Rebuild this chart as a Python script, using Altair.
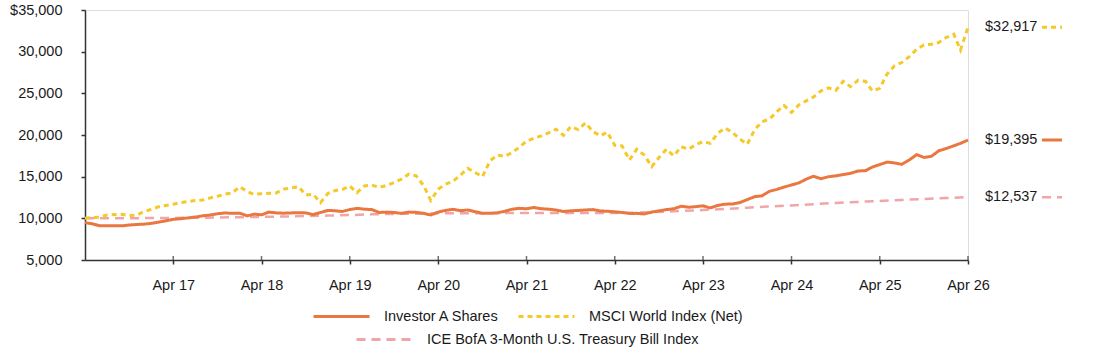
import altair as alt
import pandas as pd

# ---------------- data ----------------
months = pd.date_range("2016-04-01", "2026-04-01", freq="MS").strftime("%Y-%m-%d").tolist()
quarters = pd.date_range("2016-04-01", "2026-04-01", freq="3MS").strftime("%Y-%m-%d").tolist()

fund = [9475, 9350, 9100, 9100, 9120, 9100, 9200, 9260, 9300, 9400, 9550, 9700,
        9880, 9950, 10050, 10150, 10300, 10400, 10550, 10650, 10600, 10620, 10300, 10500,
        10420, 10750, 10650, 10620, 10650, 10680, 10650, 10450, 10700, 10950, 10900, 10820,
        11050, 11200, 11100, 11050, 10700, 10750, 10700, 10600, 10750, 10720, 10600, 10400,
        10750, 10950, 11080, 10920, 11000, 10800, 10600, 10600, 10650, 10850, 11100, 11200,
        11150, 11300, 11150, 11100, 11000, 10820, 10900, 10950, 11000, 11050, 10880, 10850,
        10780, 10700, 10580, 10600, 10520, 10750, 10900, 11050, 11150, 11450, 11330, 11400,
        11500, 11250, 11550, 11700, 11720, 11900, 12250, 12600, 12700, 13250, 13480, 13750,
        14000, 14250, 14700, 15050, 14750, 15000, 15100, 15250, 15400, 15680, 15720, 16150,
        16450, 16750, 16650, 16480, 17000, 17650, 17300, 17450, 18100, 18380, 18700, 19000,
        19395]

msci = [10000, 10100, 10150, 10400, 10450, 10480, 10300, 10400, 10800, 11100, 11400, 11550,
        11700, 11900, 12000, 12150, 12200, 12450, 12650, 12900, 13050, 13800, 13200, 12880,
        12950, 13000, 13050, 13500, 13650, 13800, 12800, 12900, 11880, 13000, 13350, 13450,
        13880, 13080, 13900, 14000, 13700, 13950, 14300, 14700, 15300, 15100, 13900, 12150,
        13500, 14100, 14450, 15150, 16000, 15500, 15000, 16900, 17600, 17450, 17900, 18500,
        19250, 19600, 19900, 20250, 20700, 19950, 21000, 20650, 21450, 20400, 19900, 20350,
        18750, 18700, 17000, 18300, 17600, 16200, 17300, 18300, 17500, 18600, 18300, 18850,
        19200, 19000, 20200, 20850, 20300, 19500, 18900, 20650, 21600, 21900, 22800, 23550,
        22700, 23600, 24100, 24550, 25300, 25650, 25350, 26450, 25800, 26550, 26450, 25300,
        25600, 27300, 28300, 28700, 29400, 30300, 30800, 30900, 31100, 31700, 32100, 30200,
        32917]

tbill = [10000, 10005, 10015, 10030, 10050, 10070, 10100, 10130, 10170, 10220, 10270, 10330,
         10390, 10480, 10530, 10560, 10610, 10620, 10625, 10630, 10633, 10635, 10637, 10640,
         10650, 10680, 10760, 10880, 11000, 11130, 11280, 11430, 11550, 11700, 11840, 11970,
         12090, 12210, 12330, 12440, 12537]

names = ["Investor A Shares", "MSCI World Index (Net)",
         "ICE BofA 3-Month U.S. Treasury Bill Index"]
end_labels = ["$19,395", "$32,917", "$12,537"]
tick_years = [2017, 2018, 2019, 2020, 2021, 2022, 2023, 2024, 2025, 2026]
tick_dates = [f"{y}-04-01" for y in tick_years]

# ---------------- styles ----------------
colors = ["#E9773F", "#F4C928", "#F0A6A8"]
dashes = [[1, 0], [5, 4], [9, 6]]
widths = [3, 3, 2.5]
legend_pos = [(227, 277), (432, 277), (270, 300)]   # legend placement (px from plot origin)
FONT = "Liberation Sans"
FS = 14.5
TXT = "#1a1a1a"
AXC = "#333333"

series_frames = [
    pd.DataFrame({"date": months, "value": fund, "series": names[0]}),
    pd.DataFrame({"date": months, "value": msci, "series": names[1]}),
    pd.DataFrame({"date": quarters, "value": tbill, "series": names[2]}),
]
df_end = pd.DataFrame({"series": names, "value": [fund[-1], msci[-1], tbill[-1]],
                       "label": end_labels})
df_ticks = pd.DataFrame({"date": tick_dates})

xscale = alt.Scale(type="utc", domain=[alt.DateTime(year=2016, month=4, date=1, utc=True),
                                        alt.DateTime(year=2026, month=4, date=1, utc=True)])
xaxis = alt.Axis(values=[alt.DateTime(year=y, month=4, date=1, utc=True) for y in tick_years],
                 format="%b %y", grid=False, domainColor=AXC, domainWidth=1.5,
                 tickColor=AXC, tickWidth=1.5, tickSize=4, labelPadding=14,
                 labelFlush=False, labelOverlap=False,
                 labelFont=FONT, labelFontSize=FS, labelColor=TXT, title=None)
yaxis = alt.Axis(values=[5000, 10000, 15000, 20000, 25000, 30000, 35000],
                 labelExpr="datum.value == 35000 ? '$35,000' : format(datum.value, ',')",
                 grid=False, domainColor=AXC, domainWidth=1.5, tickColor=AXC, tickWidth=1.5,
                 tickSize=4, labelPadding=19, labelFont=FONT, labelFontSize=FS,
                 labelFlush=False, labelColor=TXT, title=None)

x_enc = alt.X("date:T", scale=xscale, axis=xaxis, title=None)
y_enc = alt.Y("value:Q", scale=alt.Scale(domain=[5000, 35000], nice=False), axis=yaxis, title=None)


def legend(lx, ly):
    return alt.Legend(orient="none", legendX=lx, legendY=ly, direction="horizontal",
                      title=None, symbolType="stroke", symbolSize=3136,
                      symbolStrokeWidth=3, labelFont=FONT, labelFontSize=FS,
                      labelColor=TXT, labelOffset=13, labelLimit=0, padding=0)


line_layers = []
for i in [2, 0, 1]:
    leg = legend(*legend_pos[i])
    line_layers.append(
        alt.Chart(series_frames[i]).mark_line(strokeWidth=widths[i]).encode(
            x=x_enc, y=y_enc,
            color=alt.Color("series:N", scale=alt.Scale(domain=[names[i]], range=[colors[i]]),
                            legend=leg),
            strokeDash=alt.StrokeDash("series:N",
                                      scale=alt.Scale(domain=[names[i]], range=[dashes[i]]),
                                      legend=leg),
        )
    )

ticks_up = alt.Chart(df_ticks).mark_tick(color=AXC, thickness=1.5, size=4).encode(
    x=x_enc, y=alt.value(248))

end_text = alt.Chart(df_end).mark_text(align="left", baseline="middle", font=FONT,
                                        fontSize=FS, color=TXT).encode(
    x=alt.value(900), y=y_enc, text="label:N")

swatches = []
for i, n in enumerate(names):
    swatches.append(
        alt.Chart(df_end).transform_filter(alt.datum.series == n)
        .mark_rule(color=colors[i], strokeDash=dashes[i], strokeWidth=widths[i])
        .encode(x=alt.value(957), x2=alt.value(977), y=y_enc)
    )

chart = alt.layer(*line_layers, ticks_up, end_text, *swatches).resolve_scale(
    color="independent", strokeDash="independent"
).properties(
    width=883, height=250,
    padding={"left": 85, "top": 10, "right": 126, "bottom": 89},
    autosize=alt.AutoSizeParams(type="none"),
).configure_view(stroke=None).configure_axisRight(disable=True).configure(background="white")

chart.save("out.html", embed_options={"renderer": "svg", "actions": False})
